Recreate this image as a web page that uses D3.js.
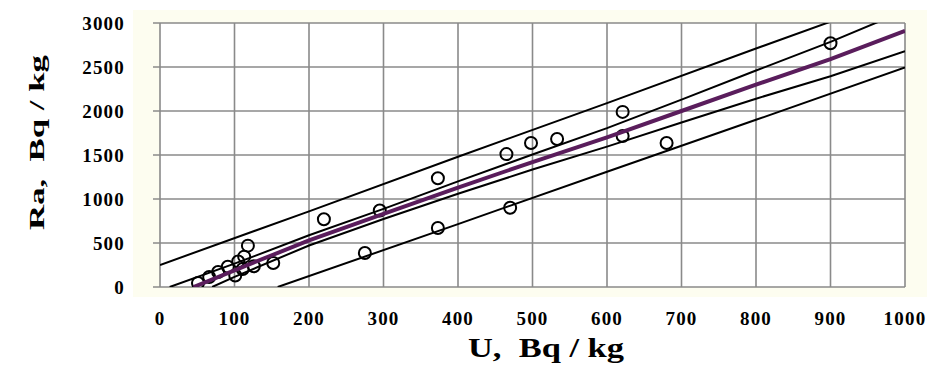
<!DOCTYPE html>
<meta charset="utf-8">
<script src="https://cdn.jsdelivr.net/npm/d3@7"></script>
<style>
body { margin: 0; background: #fff; }
text { font-family: "Liberation Serif", "Times New Roman", serif; font-weight: bold; fill: #000; }
</style>

<div id="chart"></div>

<script>

// axis ticks
var xTicks = [0, 100, 200, 300, 400, 500, 600, 700, 800, 900, 1000];
var yTicks = [0, 500, 1000, 1500, 2000, 2500, 3000];

// measured samples (U, Ra)
var sampleU  = [51, 66, 78, 91, 101, 105, 111, 113, 118, 126, 152, 220, 275, 295, 373, 373, 465, 470, 498, 533, 621, 621, 680, 900];
var sampleRa = [45, 114, 170, 230, 130, 290, 205, 345, 470, 235, 273, 770, 386, 870, 670, 1235, 1510, 900, 1636, 1682, 1990, 1716, 1636, 2770];

// regression line
var fitU  = [45, 100, 200, 300, 400, 500, 600, 700, 800, 900, 1000];
var fitRa = [0, 190, 530, 830, 1130, 1420, 1700, 2000, 2300, 2590, 2910];

// inner band (confidence)
var ciUpU  = [13, 100, 200, 300, 400, 500, 600, 700, 800, 900, 1000];
var ciUpRa = [0, 265, 588, 888, 1200, 1505, 1805, 2130, 2460, 2785, 3140];
var ciLoU  = [70, 100, 200, 300, 400, 500, 600, 700, 800, 900, 1000];
var ciLoRa = [0, 115, 472, 772, 1060, 1335, 1595, 1870, 2140, 2395, 2680];

// outer band (prediction)
var piUpU  = [0, 200, 400, 600, 800, 1000];
var piUpRa = [250, 860, 1480, 2090, 2710, 3320];
var piLoU  = [158, 400, 600, 800, 1000];
var piLoRa = [0, 715, 1310, 1900, 2495];

var W = 929, H = 365;
var plot = {left: 160, right: 905, top: 23, bottom: 287};

var svg = d3.select("#chart")
  .append("svg")
    .attr("width", W)
    .attr("height", H);

// chart area background
svg.append("rect")
  .attr("x", 133).attr("y", 10)
  .attr("width", 794).attr("height", 287)
  .attr("fill", "#fdfdf0");

svg.append("rect")
  .attr("x", plot.left).attr("y", plot.top)
  .attr("width", plot.right - plot.left).attr("height", plot.bottom - plot.top)
  .attr("fill", "#fff");

var x = d3.scaleLinear().domain([0, 1000]).range([plot.left, plot.right]);
var y = d3.scaleLinear().domain([0, 3000]).range([plot.bottom, plot.top]);

// grid
svg.append("g")
  .selectAll("line")
  .data(xTicks)
  .enter()
  .append("line")
    .attr("x1", function(d) { return x(d); })
    .attr("x2", function(d) { return x(d); })
    .attr("y1", y(0)).attr("y2", y(3000))
    .attr("stroke", "#8a8a8a").attr("stroke-width", 1.6);

svg.append("g")
  .selectAll("line")
  .data(yTicks)
  .enter()
  .append("line")
    .attr("x1", x(0) - 7).attr("x2", x(1000))
    .attr("y1", function(d) { return y(d); })
    .attr("y2", function(d) { return y(d); })
    .attr("stroke", "#8a8a8a").attr("stroke-width", 1.6);

// tick labels
svg.append("g")
  .selectAll("text")
  .data(yTicks)
  .enter()
  .append("text")
    .attr("x", 125)
    .attr("y", function(d) { return y(d) + 6.5; })
    .attr("text-anchor", "end")
    .style("font-size", "19px")
    .style("letter-spacing", "1.2px")
    .text(function(d) { return d; });

svg.append("g")
  .selectAll("text")
  .data(xTicks)
  .enter()
  .append("text")
    .attr("x", function(d) { return x(d); })
    .attr("y", 325)
    .attr("text-anchor", "middle")
    .style("font-size", "19px")
    .style("letter-spacing", "1.2px")
    .text(function(d) { return d; });

// axis titles
svg.append("text")
  .attr("x", 468)
  .attr("y", 357)
  .attr("textLength", 156)
  .attr("lengthAdjust", "spacingAndGlyphs")
  .attr("xml:space", "preserve")
  .style("font-size", "27px")
  .style("white-space", "pre")
  .text("U,  Bq / kg");

svg.append("text")
  .attr("transform", "translate(44,230) rotate(-90)")
  .attr("textLength", 175)
  .attr("lengthAdjust", "spacingAndGlyphs")
  .attr("xml:space", "preserve")
  .style("font-size", "22px")
  .style("white-space", "pre")
  .text("Ra,  Bq / kg");

// clip to plot area
svg.append("clipPath")
  .attr("id", "clip")
  .append("rect")
    .attr("x", plot.left).attr("y", plot.top)
    .attr("width", plot.right - plot.left).attr("height", plot.bottom - plot.top);

var line = d3.line()
  .x(function(d) { return x(d[0]); })
  .y(function(d) { return y(d[1]); });

var bands = [
  d3.zip(piUpU, piUpRa),
  d3.zip(piLoU, piLoRa),
  d3.zip(ciUpU, ciUpRa),
  d3.zip(ciLoU, ciLoRa)
];

var g = svg.append("g").attr("clip-path", "url(#clip)");

g.selectAll(".band")
  .data(bands)
  .enter()
  .append("path")
    .attr("class", "band")
    .attr("d", line)
    .attr("fill", "none")
    .attr("stroke", "#000")
    .attr("stroke-width", 2);

// points
g.selectAll(".dot")
  .data(d3.zip(sampleU, sampleRa))
  .enter()
  .append("circle")
    .attr("class", "dot")
    .attr("cx", function(d) { return x(d[0]); })
    .attr("cy", function(d) { return y(d[1]); })
    .attr("r", 6)
    .attr("fill", "none")
    .attr("stroke", "#000")
    .attr("stroke-width", 2);

g.append("path")
  .datum(d3.zip(fitU, fitRa))
  .attr("d", line)
  .attr("fill", "none")
  .attr("stroke", "#5a1d5c")
  .attr("stroke-width", 4);

</script>
